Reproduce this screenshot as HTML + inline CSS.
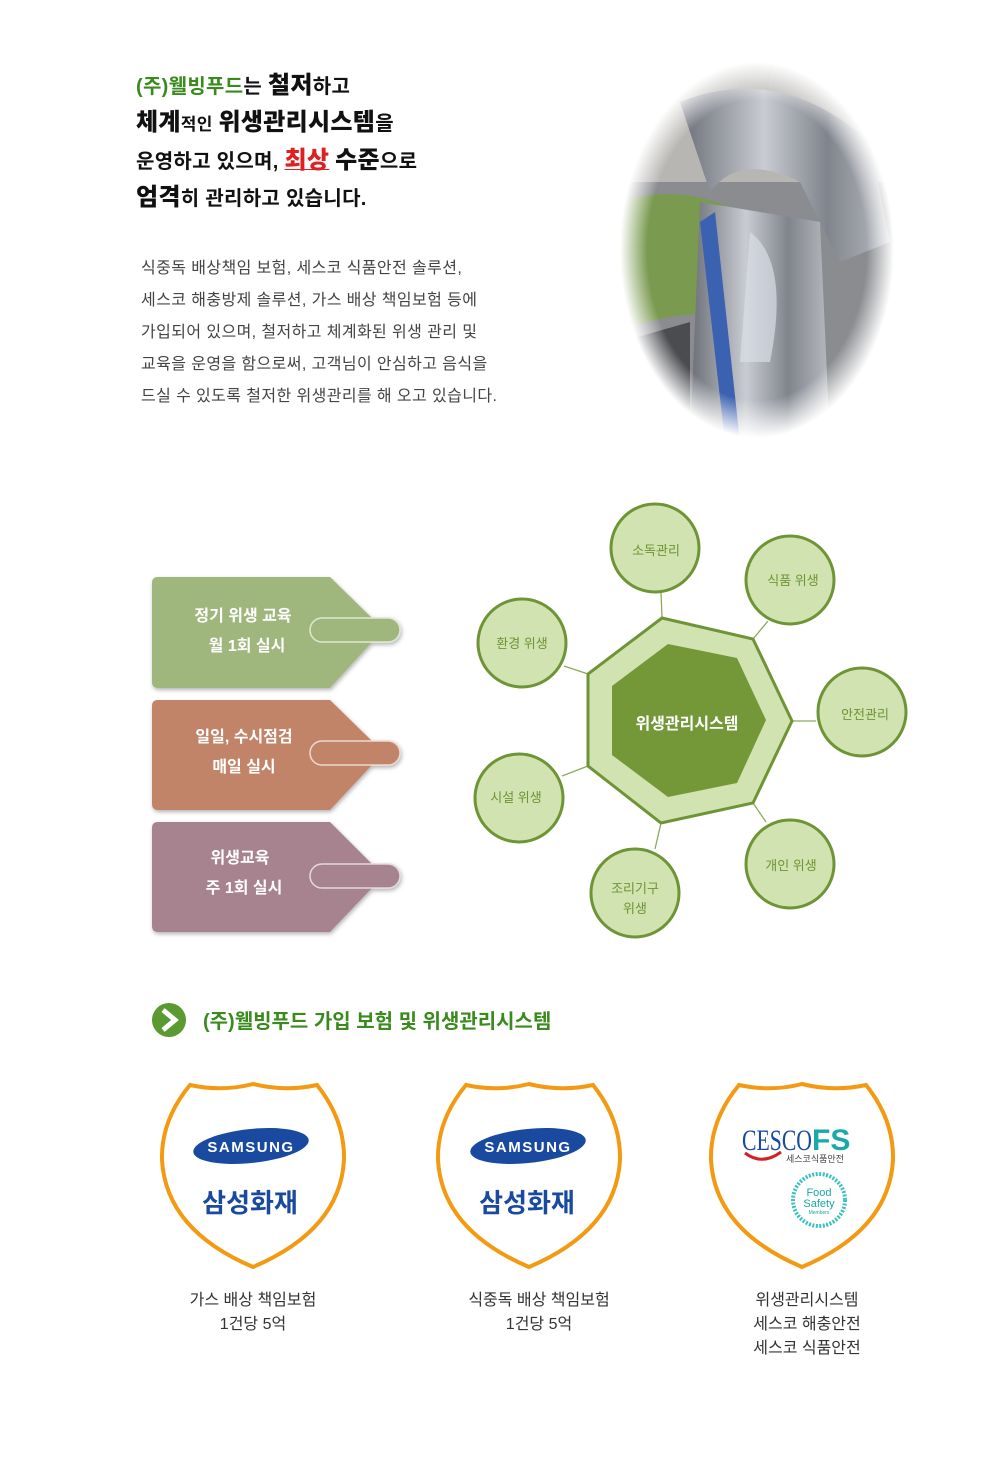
<!DOCTYPE html>
<html><head><meta charset="utf-8">
<style>
body{margin:0;background:#fff;width:1000px;height:1470px;position:relative;overflow:hidden;font-family:"Liberation Sans","Noto Sans CJK KR",sans-serif;}
.a{position:absolute;white-space:nowrap;}
.h{font-weight:bold;color:#111;font-size:20px;letter-spacing:0.3px;}
.h b{font-size:24px;}
.p{font-size:16px;color:#444;line-height:32px;letter-spacing:0.4px;}
.cap{font-size:16px;color:#333;text-align:center;line-height:24px;}
</style></head><body>
<div class="a h" style="left:136px;top:68px;line-height:36px;">
<div><span style="color:#3a8a1e">(주)웰빙푸드</span>는 <b>철저</b>하고</div>
<div><b>체계</b><span style="font-size:17px">적인</span> <b>위생관리시스템</b>을</div>
<div>운영하고 있으며, <b style="color:#e02020;text-decoration:underline;text-decoration-thickness:1px;">최상</b> <b>수준</b>으로</div>
<div><b>엄격</b>히 관리하고 있습니다.</div>
</div>
<div class="a p" style="left:141px;top:253px;">식중독 배상책임 보험, 세스코 식품안전 솔루션,<br>세스코 해충방제 솔루션, 가스 배상 책임보험 등에<br>가입되어 있으며, 철저하고 체계화된 위생 관리 및<br>교육을 운영을 함으로써, 고객님이 안심하고 음식을<br>드실 수 있도록 철저한 위생관리를 해 오고 있습니다.</div>

<svg class="a" style="left:620px;top:62px" width="275" height="380">
<defs>
<radialGradient id="fade" cx="50%" cy="50%" r="50%"><stop offset="80%" stop-color="#fff" stop-opacity="1"/><stop offset="100%" stop-color="#fff" stop-opacity="0"/></radialGradient>
<mask id="m"><ellipse cx="137" cy="188" rx="137" ry="188" fill="url(#fade)"/></mask>
<linearGradient id="mt" x1="0" x2="1"><stop offset="0" stop-color="#6a6e76"/><stop offset=".4" stop-color="#c9ccd2"/><stop offset=".7" stop-color="#80848c"/><stop offset="1" stop-color="#b8bbc0"/></linearGradient>
</defs>
<g mask="url(#m)">
<rect width="275" height="380" fill="#8a8c90"/>
<rect y="0" width="275" height="120" fill="#b8b6b2"/>
<path d="M0 140 Q60 120 120 150 L140 260 Q70 240 0 270Z" fill="#7a9a50"/>
<path d="M60 40 Q160 0 250 80 L270 180 L220 200 L180 120 Q120 90 90 130 Z" fill="url(#mt)"/>
<path d="M80 140 L200 160 L210 380 L70 380 Z" fill="url(#mt)"/>
<path d="M95 150 L120 380 L105 380 L80 160Z" fill="#3b62b0"/>
<path d="M130 170 Q170 200 150 300 L120 300 Z" fill="#d8dde6" opacity=".7"/>
<path d="M0 280 L70 260 L70 380 L0 380Z" fill="#4a4c50"/>
</g>
</svg>

<svg class="a" style="left:0;top:0" width="1000" height="1470">
<defs>
<filter id="sh"><feDropShadow dx="1" dy="2" stdDeviation="2" flood-opacity=".3"/></filter>
</defs>
<g filter="url(#sh)">
<path d="M152 583 Q152 577 158 577 L330 577 L372 618 L318 618 Q308 630 318 642 L372 642 L330 688 L158 688 Q152 688 152 682Z" fill="#9fb67c"/>
<rect x="310" y="618" width="90" height="24" rx="12" fill="#9fb67c" stroke="#dfe8d2" stroke-width="1.5"/>
<path d="M152 706 Q152 700 158 700 L330 700 L372 741 L318 741 Q308 753 318 765 L372 765 L330 810 L158 810 Q152 810 152 804Z" fill="#c28469"/>
<rect x="310" y="741" width="90" height="24" rx="12" fill="#c28469" stroke="#ecd8ce" stroke-width="1.5"/>
<path d="M152 828 Q152 822 158 822 L330 822 L372 864 L318 864 Q308 876 318 888 L372 888 L330 932 L158 932 Q152 932 152 926Z" fill="#a78390"/>
<rect x="310" y="864" width="90" height="24" rx="12" fill="#a78390" stroke="#e6d8dd" stroke-width="1.5"/>
</g>
<g font-size="16" font-weight="bold" fill="#fff" text-anchor="middle">
<text x="243" y="621">정기 위생 교육</text><text x="247" y="651">월 1회 실시</text>
<text x="244" y="742">일일, 수시점검</text><text x="244" y="772">매일 실시</text>
<text x="240" y="863">위생교육</text><text x="244" y="893">주 1회 실시</text>
</g>

<g stroke="#8aaa5a" stroke-width="1.3">
<line x1="661" y1="592" x2="662" y2="618"/>
<line x1="768" y1="621" x2="753" y2="639"/>
<line x1="816" y1="721" x2="792" y2="721"/>
<line x1="766" y1="822" x2="753" y2="803"/>
<line x1="655" y1="849" x2="661" y2="823"/>
<line x1="562" y1="776" x2="588" y2="766"/>
<line x1="564" y1="666" x2="588" y2="674"/>
</g>
<polygon points="662,618 753,639 792,721 753,803 661,823 588,766 588,674" fill="#d0e3b0" stroke="#6e9436" stroke-width="3"/>
<polygon points="668,644 737,658 766,720 737,783 668,797 612,755 612,686" fill="#749838"/>
<text x="687" y="729" font-size="16" font-weight="bold" fill="#fff" text-anchor="middle">위생관리시스템</text>
<g fill="#d0e3b0" stroke="#6e9436" stroke-width="3">
<circle cx="655" cy="548" r="44"/><circle cx="790" cy="580" r="44"/><circle cx="862" cy="712" r="44"/>
<circle cx="790" cy="864" r="44"/><circle cx="635" cy="893" r="44"/><circle cx="519" cy="798" r="44"/><circle cx="522" cy="643" r="44"/>
</g>
<g font-size="13" fill="#6e9436" text-anchor="middle">
<text x="656" y="555">소독관리</text><text x="793" y="585">식품 위생</text><text x="865" y="719">안전관리</text>
<text x="791" y="870">개인 위생</text><text x="635" y="893">조리기구</text><text x="635" y="913">위생</text>
<text x="516" y="802">시설 위생</text><text x="522" y="648">환경 위생</text>
</g>

<circle cx="169" cy="1020" r="17" fill="#5a9a30"/>
<path d="M163 1010 L175 1020 L163 1030" fill="none" stroke="#fff" stroke-width="5"/>
<text x="203" y="1028" font-size="20" font-weight="bold" fill="#3a8a1e">(주)웰빙푸드 가입 보험 및 위생관리시스템</text>

<g fill="#fff" stroke="#f39a12" stroke-width="4">
<path d="M190 1085 Q222 1092 253 1084 Q285 1092 317 1085 Q345 1120 344 1160 Q340 1230 253 1267 Q166 1230 162 1160 Q161 1120 190 1085Z"/>
<path d="M466 1085 Q498 1092 529 1084 Q561 1092 593 1085 Q621 1120 620 1160 Q616 1230 529 1267 Q442 1230 438 1160 Q437 1120 466 1085Z"/>
<path d="M739 1085 Q771 1092 802 1084 Q834 1092 866 1085 Q894 1120 893 1160 Q889 1230 802 1267 Q715 1230 711 1160 Q710 1120 739 1085Z"/>
</g>
<ellipse cx="251" cy="1146" rx="58" ry="17" fill="#1a4aa0" transform="rotate(-6 251 1146)"/>
<text x="251" y="1152" font-size="15" font-weight="bold" fill="#fff" text-anchor="middle" letter-spacing="1.5">SAMSUNG</text>
<text x="250" y="1212" font-size="26" font-weight="bold" fill="#1a4aa0" text-anchor="middle">삼성화재</text>
<ellipse cx="528" cy="1146" rx="58" ry="17" fill="#1a4aa0" transform="rotate(-6 528 1146)"/>
<text x="528" y="1152" font-size="15" font-weight="bold" fill="#fff" text-anchor="middle" letter-spacing="1.5">SAMSUNG</text>
<text x="527" y="1212" font-size="26" font-weight="bold" fill="#1a4aa0" text-anchor="middle">삼성화재</text>
<text x="742" y="1150" font-size="30" fill="#1a4aa0" font-family="Liberation Serif" textLength="70" lengthAdjust="spacingAndGlyphs">CESCO</text>
<text x="812" y="1150" font-size="30" font-weight="bold" fill="#1aa8a8">FS</text>
<path d="M745 1153 Q762 1166 781 1152" fill="none" stroke="#d42020" stroke-width="3"/>
<text x="786" y="1162" font-size="9" fill="#444">세스코식품안전</text>
<circle cx="819" cy="1200" r="26" fill="#fff" stroke="#3cc0c0" stroke-width="4" stroke-dasharray="2 1.5"/>
<text x="819" y="1196" font-size="11" fill="#1aa8a8" text-anchor="middle">Food</text>
<text x="819" y="1207" font-size="11" fill="#1aa8a8" text-anchor="middle">Safety</text>
<text x="819" y="1214" font-size="5" fill="#1aa8a8" text-anchor="middle">Members</text>
</svg>

<div class="a cap" style="left:153px;width:200px;top:1289px;">가스 배상 책임보험<br>1건당 5억</div>
<div class="a cap" style="left:439px;width:200px;top:1289px;">식중독 배상 책임보험<br>1건당 5억</div>
<div class="a cap" style="left:707px;width:200px;top:1289px;">위생관리시스템<br>세스코 해충안전<br>세스코 식품안전</div>
</body></html>
